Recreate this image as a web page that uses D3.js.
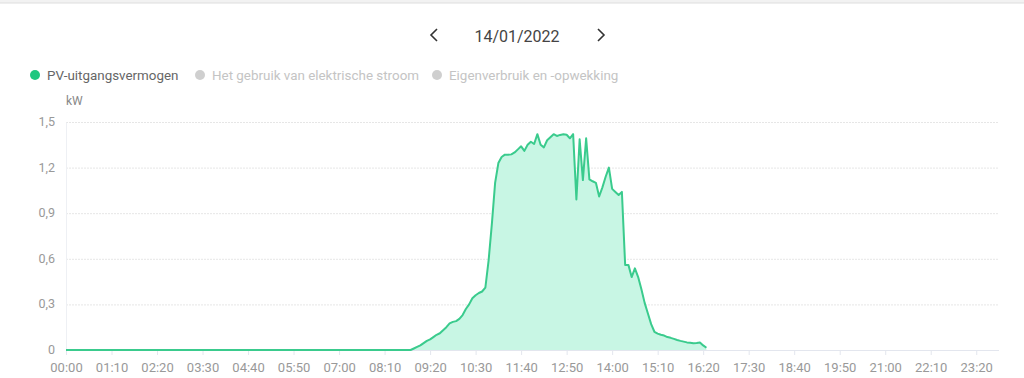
<!DOCTYPE html>
<html lang="nl">
<head>
    <meta charset="UTF-8">
    <title>PV-uitgangsvermogen</title>
    <style>
        body { margin: 0; background: #fff; }
        text { font-family: Roboto, 'Noto Sans', sans-serif; }
        .grid line { stroke: #e6e6e6; stroke-dasharray: 2,1; }
        .axis text { fill: #999; font-size: 12.5px; }
    </style>
</head>
<body>
<script src="https://d3js.org/d3.v7.min.js"></script>
<script>

    const dateLabel = '14/01/2022';
    const legendItems = ['PV-uitgangsvermogen', 'Het gebruik van elektrische stroom', 'Eigenverbruik en -opwekking'];
    const yTicks = [0, 0.3, 0.6, 0.9, 1.2, 1.5];
    const xTickLabels = ['00:00', '01:10', '02:20', '03:30', '04:40', '05:50', '07:00', '08:10', '09:20', '10:30',
        '11:40', '12:50', '14:00', '15:10', '16:20', '17:30', '18:40', '19:50', '21:00', '22:10', '23:20'];

    // kW every 5 minutes from 00:00 (one row per hour)
    const pvValues = [
        0, 0, 0, 0, 0, 0, 0, 0, 0, 0, 0, 0,
        0, 0, 0, 0, 0, 0, 0, 0, 0, 0, 0, 0,
        0, 0, 0, 0, 0, 0, 0, 0, 0, 0, 0, 0,
        0, 0, 0, 0, 0, 0, 0, 0, 0, 0, 0, 0,
        0, 0, 0, 0, 0, 0, 0, 0, 0, 0, 0, 0,
        0, 0, 0, 0, 0, 0, 0, 0, 0, 0, 0, 0,
        0, 0, 0, 0, 0, 0, 0, 0, 0, 0, 0, 0,
        0, 0, 0, 0, 0, 0, 0, 0, 0, 0, 0, 0,
        0, 0, 0, 0, 0, 0, 0, 0, 0, 0, 0, 0.01,
        0.02, 0.03, 0.045, 0.06, 0.07, 0.085, 0.10, 0.11, 0.13, 0.15, 0.175, 0.185,
        0.19, 0.205, 0.23, 0.27, 0.30, 0.34, 0.36, 0.375, 0.385, 0.41, 0.59, 0.83,
        1.10, 1.23, 1.27, 1.285, 1.285, 1.287, 1.30, 1.32, 1.34, 1.31, 1.35, 1.37,
        1.355, 1.42, 1.35, 1.333, 1.38, 1.40, 1.42, 1.408, 1.415, 1.419, 1.416, 1.393,
        1.42, 0.99, 1.386, 1.118, 1.393, 1.123, 1.11, 1.10, 1.01, 1.07, 1.14, 1.20,
        1.06, 1.04, 1.02, 1.04, 0.56, 0.56, 0.48, 0.537, 0.48, 0.40, 0.31, 0.24,
        0.17, 0.12, 0.108, 0.10, 0.095, 0.085, 0.08, 0.073, 0.066, 0.06, 0.055, 0.05,
        0.048, 0.044, 0.046, 0.05, 0.03, 0.015
    ];

    const size = {'width': 1024, 'height': 378};
    const plot = {'left': 66, 'right': 999, 'top': 122, 'bottom': 350};
    const green = '#3acb8d';

    const points = pvValues.map(function(v, i) { return {'min': i * 5, 'value': v}; });

    let svg = d3.select('body').append('svg')
        .attr('width', size.width)
        .attr('height', size.height);

    // top border
    svg.append('rect')
        .attr('x', 0).attr('y', 0)
        .attr('width', size.width).attr('height', 3)
        .style('fill', '#f2f2f2');
    svg.append('line')
        .attr('x1', 0).attr('x2', size.width)
        .attr('y1', 3).attr('y2', 3)
        .style('stroke', '#dedede');

    // date header
    let header = svg.append('g');
    header.append('path')
        .attr('d', 'M437,29 L431,35 L437,41')
        .style('fill', 'none').style('stroke', '#333').style('stroke-width', 1.6);
    header.append('path')
        .attr('d', 'M598,29 L604,35 L598,41')
        .style('fill', 'none').style('stroke', '#333').style('stroke-width', 1.6);
    header.append('text')
        .attr('x', 517).attr('y', 42)
        .attr('text-anchor', 'middle')
        .style('font-size', '16px')
        .style('fill', '#444')
        .text(dateLabel);

    // legend
    const legendX = [35, 200, 437];
    let legend = svg.append('g');
    legendItems.forEach(function(d, i) {
        legend.append('circle')
            .attr('cx', legendX[i]).attr('cy', 75).attr('r', 5)
            .style('fill', i == 0 ? '#1fc77f' : '#cfcfcf');
        legend.append('text')
            .attr('x', legendX[i] + 12).attr('y', 79.5)
            .style('font-size', '13.4px')
            .style('fill', i == 0 ? '#666' : '#c4c4c4')
            .text(d);
    });

    svg.append('text')
        .attr('x', 66).attr('y', 105)
        .style('font-size', '12px')
        .style('fill', '#888')
        .text('kW');

    let x = d3.scaleLinear().domain([0, 1435]).range([plot.left, plot.right]);
    let y = d3.scaleLinear().domain([0, 1.5]).range([plot.bottom, plot.top]);

    // horizontal grid
    svg.append('g')
        .attr('class', 'grid')
        .attr('transform', 'translate(' + plot.left + ',0)')
        .call(d3.axisLeft(y).tickValues(yTicks.slice(1)).tickSize(-(plot.right - plot.left)).tickFormat(''))
        .call(function(g) { g.select('.domain').remove(); });

    // y axis
    svg.append('g')
        .attr('class', 'axis')
        .attr('transform', 'translate(' + plot.left + ',0)')
        .call(d3.axisLeft(y).tickValues(yTicks).tickSize(0).tickPadding(11)
            .tickFormat(function(d) { return d == 0 ? '0' : d3.format('.1f')(d).replace('.', ','); }))
        .call(function(g) {
            g.select('.domain').style('stroke', '#eef0f4');
            g.selectAll('text').attr('dy', '0.28em');
        });

    // x axis
    let xAxis = svg.append('g')
        .attr('class', 'axis')
        .attr('transform', 'translate(0,' + plot.bottom + ')')
        .call(d3.axisBottom(x)
            .tickValues(xTickLabels.map(function(d, i) { return i * 70; }))
            .tickSize(5).tickPadding(8)
            .tickFormat(function(d, i) { return xTickLabels[i]; }));
    xAxis.select('.domain').attr('d', 'M' + plot.left + ',0.5H' + plot.right).style('stroke', '#e3e6ee');
    xAxis.selectAll('.tick line').style('stroke', '#e3e6ee');
    xAxis.selectAll('text').style('font-size', '13px');

    // area + line
    svg.append('path')
        .datum(points)
        .attr('d', d3.area()
            .x(function(d) { return x(d.min); })
            .y0(y(0))
            .y1(function(d) { return y(d.value); }))
        .style('fill', '#c8f6e4');

    svg.append('path')
        .datum(points)
        .attr('d', d3.line()
            .x(function(d) { return x(d.min); })
            .y(function(d) { return y(d.value); }))
        .style('fill', 'none')
        .style('stroke', green)
        .style('stroke-width', 2)
        .style('stroke-linejoin', 'round');

</script>
</body>
</html>
